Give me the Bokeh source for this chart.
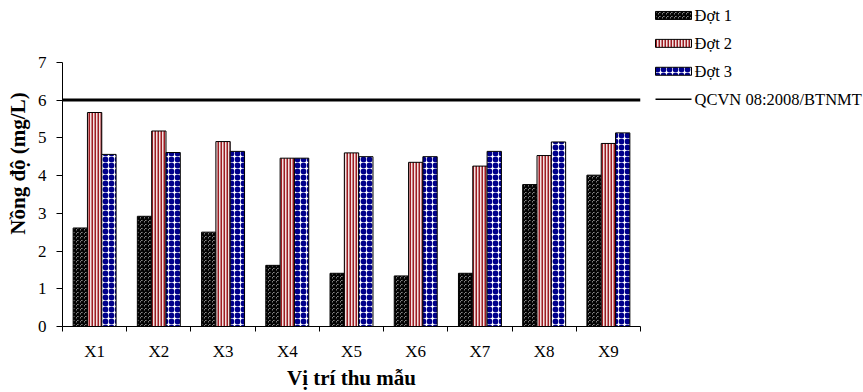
import numpy as np
from bokeh.plotting import figure
from bokeh.layouts import row
from bokeh.core.properties import value
from bokeh.models import ColumnDataSource, FixedTicker, Range1d
from bokeh.transform import dodge
from bokeh.embed import file_html
from bokeh.resources import INLINE

# ---- data ----
categories = ["X1", "X2", "X3", "X4", "X5", "X6", "X7", "X8", "X9"]
dot1 = [2.61, 2.92, 2.50, 1.62, 1.41, 1.34, 1.41, 3.76, 4.01]
dot2 = [5.67, 5.18, 4.90, 4.46, 4.60, 4.35, 4.25, 4.53, 4.85]
dot3 = [4.56, 4.61, 4.64, 4.46, 4.50, 4.50, 4.64, 4.89, 5.13]
series_names = ["Đợt 1", "Đợt 2", "Đợt 3"]
qcvn_value = 6
qcvn_name = "QCVN 08:2008/BTNMT"
y_ticks = [0, 1, 2, 3, 4, 5, 6, 7]

xi = list(range(1, len(categories) + 1))
src = ColumnDataSource(dict(xi=xi, d1=dot1, d2=dot2, d3=dot3))

FONT = "Liberation Serif"

styles = [
    dict(fill_color="white", line_color="black", line_width=1,
         hatch_pattern="criss_cross", hatch_color="black",
         hatch_scale=4, hatch_weight=1.4),
    dict(fill_color="#f2e2e2", line_color="black", line_width=1,
         hatch_pattern="vertical_line", hatch_color="#9e1c22",
         hatch_scale=3, hatch_weight=2),
    dict(fill_color="white", line_color="black", line_width=1,
         hatch_pattern="ring", hatch_color="#00008b",
         hatch_scale=6, hatch_weight=2.8),
]

H, BOTTOM, TOP_GAP = 392, 65, 62
frame_h = H - BOTTOM
y_max = y_ticks[-1]
y_top = y_max * frame_h / (frame_h - TOP_GAP)   # leaves blank space above 7

p = figure(width=642, height=H, output_backend="svg", toolbar_location=None,
           x_range=Range1d(0.5, len(categories) + 0.5), y_range=Range1d(0, y_top),
           min_border_left=62, min_border_right=2, min_border_top=0,
           min_border_bottom=BOTTOM)
p.outline_line_color = None
p.grid.visible = False
p.background_fill_color = "white"

bw = 0.223
p.vbar(x=dodge("xi", -bw, range=p.x_range), top="d1", width=bw, source=src, **styles[0])
p.vbar(x=dodge("xi", 0, range=p.x_range), top="d2", width=bw, source=src, **styles[1])
p.vbar(x=dodge("xi", bw, range=p.x_range), top="d3", width=bw, source=src, **styles[2])
p.line(x=[xi[0] - 0.5, xi[-1] + 0.5], y=[qcvn_value, qcvn_value],
       line_color="black", line_width=3)

# x axis: labels at centres, tick marks at category boundaries (minor ticks)
xa = p.xaxis[0]
xa.ticker = FixedTicker(ticks=xi, minor_ticks=[x - 0.5 for x in xi] + [xi[-1] + 0.5])
xa.major_label_overrides = {x: c for x, c in zip(xi, categories)}
xa.major_tick_out = 0
xa.major_tick_in = 0
xa.minor_tick_out = 5
xa.minor_tick_in = 0
xa.minor_tick_line_color = "black"
xa.axis_line_color = "black"
xa.major_label_standoff = 10
xa.major_label_text_font = FONT
xa.major_label_text_font_size = "17px"
xa.major_label_text_color = "black"
xa.axis_label = "Vị trí thu mẫu"
xa.axis_label_text_font = FONT
xa.axis_label_text_font_style = "bold"
xa.axis_label_text_font_size = "21px"
xa.axis_label_standoff = 2
xa.axis_label_text_color = "black"

ya = p.yaxis[0]
ya.ticker = FixedTicker(ticks=y_ticks, minor_ticks=[])
ya.bounds = (0, y_max)
ya.major_tick_out = 6
ya.major_tick_in = 0
ya.major_tick_line_color = "black"
ya.axis_line_color = "black"
ya.major_label_standoff = 10
ya.major_label_text_font = FONT
ya.major_label_text_font_size = "17px"
ya.major_label_text_color = "black"
ya.axis_label = "Nồng độ (mg/L)"
ya.axis_label_text_font = FONT
ya.axis_label_text_font_style = "bold"
ya.axis_label_text_font_size = "21px"
ya.axis_label_standoff = 5
ya.axis_label_text_color = "black"

# ---- legend panel (pixel-like coordinates, y downwards) ----
LW = 221
lf = figure(width=LW, height=H, output_backend="svg", toolbar_location=None,
            x_range=Range1d(0, LW), y_range=Range1d(frame_h, 0),
            min_border_left=0, min_border_right=0, min_border_top=0,
            min_border_bottom=BOTTOM)
lf.axis.visible = False
lf.grid.visible = False
lf.outline_line_color = None

sw_x0, sw_w, sw_h = 13, 36, 8
row0, row_step = 15, 28
labels = series_names + [qcvn_name]
rows = [row0 + row_step * i for i in range(len(labels))]
for s, ry in zip(styles, rows[:3]):
    lf.rect(x=[sw_x0 + sw_w / 2], y=[ry], width=sw_w, height=sw_h, **s)
lf.segment(x0=[sw_x0], x1=[sw_x0 + sw_w], y0=[rows[3]], y1=[rows[3]],
           line_color="black", line_width=1.5)
lf.text(x=[sw_x0 + sw_w + 3] * len(labels), y=rows, text=labels,
        text_font=value(FONT), text_font_size="16.5px", text_color="black",
        text_baseline="middle", text_align="left")

open("out.html", "w").write(file_html(row(p, lf), INLINE))
